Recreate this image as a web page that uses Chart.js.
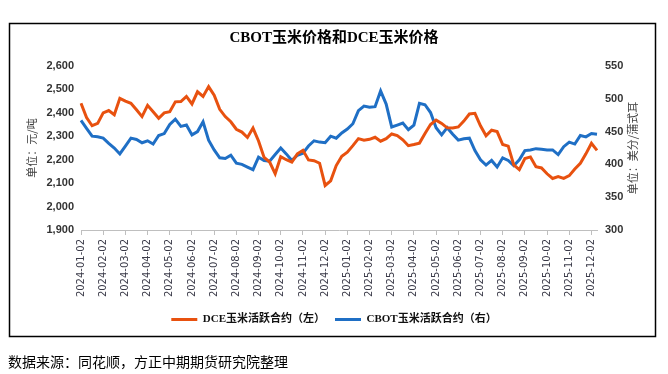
<!DOCTYPE html>
<html lang="zh">
<head>
  <meta charset="UTF-8">
  <title>CBOT玉米价格和DCE玉米价格</title>
  <script src="https://cdn.jsdelivr.net/npm/chart.js"></script>
  <style>
    html, body {
      margin: 0;
      padding: 0;
      background: #fff;
    }
    canvas {
      display: block;
    }
  </style>
</head>
<body>
  <canvas id="cornChart" width="668" height="374"></canvas>

  <script>
    // month ticks on the x axis, 4 samples per month
    const months = [
      "2024-01", "2024-02", "2024-03", "2024-04", "2024-05", "2024-06",
      "2024-07", "2024-08", "2024-09", "2024-10", "2024-11", "2024-12",
      "2025-01", "2025-02", "2025-03", "2025-04", "2025-05", "2025-06",
      "2025-07", "2025-08", "2025-09", "2025-10", "2025-11", "2025-12"
    ];
    const sampleDays = ["02", "09", "16", "23"];

    // DCE active contract, yuan/ton (left axis)
    const dcePrice = [
      2441, 2380, 2345, 2355, 2400, 2410, 2392, 2462, 2450, 2441,
      2413, 2384, 2432, 2405, 2377, 2400, 2405, 2447, 2448, 2470,
      2438, 2490, 2470, 2512, 2475, 2415, 2384, 2362, 2330, 2318,
      2295, 2335, 2280, 2210, 2190, 2140, 2213, 2200, 2190, 2225,
      2240, 2199, 2196, 2185, 2090, 2110, 2175, 2215, 2232, 2260,
      2290, 2283, 2287, 2296, 2279, 2290, 2310, 2303, 2285, 2260,
      2265, 2271, 2312, 2350, 2369, 2355, 2336, 2335, 2340, 2365,
      2395, 2398, 2345, 2302, 2326, 2320, 2265, 2258, 2178, 2158,
      2205, 2212, 2170, 2165, 2140, 2120, 2128, 2120, 2132, 2160,
      2185, 2225, 2270, 2240
    ];

    // CBOT active contract, cents/bushel (right axis)
    const cbotPrice = [
      467, 455, 443, 442, 440, 432, 425, 416, 428, 440,
      438, 433, 436, 431, 444, 447, 461, 469, 458, 460,
      445, 450, 465, 437, 422, 410, 409, 414, 402, 400,
      396, 392, 411, 406, 405, 415, 425, 416, 406, 414,
      417, 428, 436, 434, 433, 443, 440, 448, 454, 462,
      482, 489, 487, 488, 512, 492, 457, 460, 463, 453,
      460, 493, 491, 479, 456, 445, 456, 446, 437, 439,
      440, 421, 407, 399, 406, 396, 410, 406, 398, 407,
      421, 422, 424, 423, 422, 422, 415, 427, 434, 431,
      444, 442, 447, 446
    ];

    const dates = [];
    months.forEach(m => sampleDays.forEach(d => dates.push(m + "-" + d)));
    dates.length = dcePrice.length;

    const ORANGE = "#E8510F";
    const BLUE = "#1F6FC5";

    // border box, source note and right axis title
    const frame = {
      id: "frame",
      afterDraw(chart) {
        const c = chart.ctx;
        c.save();
        c.strokeStyle = "#000";
        c.lineWidth = 1.5;
        c.strokeRect(9.5, 23.5, 646, 313);

        c.fillStyle = "#000";
        c.font = "14px 'Noto Sans CJK SC'";
        c.textAlign = "left";
        c.textBaseline = "middle";
        c.fillText("数据来源：同花顺，方正中期期货研究院整理", 8, 362);

        const yr = chart.scales.y2;
        c.fillStyle = "#404040";
        c.font = "11px 'Noto Sans CJK SC'";
        c.textAlign = "center";
        c.translate(633, (yr.top + yr.bottom) / 2);
        c.rotate(-Math.PI / 2);
        c.fillText("单位：美分/蒲式耳", 0, 0);
        c.restore();
      }
    };

    const tickFont = { family: "'Liberation Sans', Arial", size: 11, weight: "bold" };

    new Chart(document.getElementById("cornChart"), {
      type: "line",
      data: {
        labels: dates,
        datasets: [
          {
            label: "DCE玉米活跃合约（左）",
            data: dcePrice,
            borderColor: ORANGE,
            backgroundColor: ORANGE,
            borderWidth: 3,
            pointRadius: 0,
            tension: 0,
            yAxisID: "y"
          },
          {
            label: "CBOT玉米活跃合约（右）",
            data: cbotPrice,
            borderColor: BLUE,
            backgroundColor: BLUE,
            borderWidth: 3,
            pointRadius: 0,
            tension: 0,
            yAxisID: "y2"
          }
        ]
      },
      options: {
        responsive: false,
        animation: false,
        layout: { padding: { top: 23, left: 12, right: 12, bottom: 39 } },
        plugins: {
          title: {
            display: true,
            text: "CBOT玉米价格和DCE玉米价格",
            color: "#000",
            font: { family: "'Liberation Serif', 'Noto Sans CJK SC'", size: 15, weight: "bold" },
            padding: { top: 6, bottom: 19 }
          },
          legend: {
            position: "bottom",
            labels: {
              boxWidth: 26,
              boxHeight: 3,
              padding: 10,
              color: "#111",
              font: { family: "'Liberation Serif', 'Noto Sans CJK SC'", size: 11, weight: "bold" },
              generateLabels: chart =>
                Chart.defaults.plugins.legend.labels.generateLabels(chart)
                  .map(item => Object.assign(item, { lineWidth: 0 }))
            }
          },
          tooltip: { enabled: false }
        },
        scales: {
          x: {
            grid: {
              display: true,
              drawOnChartArea: false,
              drawTicks: true,
              tickLength: 5,
              color: ctx => (ctx.index % 4 === 0 ? "#bfbfbf" : "rgba(0,0,0,0)")
            },
            border: { display: true, color: "#bfbfbf", width: 1 },
            ticks: {
              autoSkip: false,
              minRotation: 90,
              maxRotation: 90,
              padding: 4,
              color: "#3a3a48",
              font: { family: "'DejaVu Sans'", size: 10 },
              callback: (v, i) => (i % 4 === 0 ? dates[i] : "")
            },
            afterFit: s => { s.height = 74; }
          },
          y: {
            position: "left",
            min: 1900,
            max: 2600,
            grid: { display: false, drawTicks: false },
            border: { display: false },
            ticks: {
              stepSize: 100,
              padding: 7,
              color: "#333",
              font: tickFont,
              callback: v => v.toLocaleString("en-US")
            },
            title: {
              display: true,
              text: "单位：元/吨",
              color: "#404040",
              font: { family: "'Noto Sans CJK SC'", size: 11 },
              padding: { top: 13, bottom: 0 }
            },
            afterFit: s => { s.width = 69; }
          },
          y2: {
            position: "right",
            min: 300,
            max: 550,
            grid: { display: false, drawTicks: false },
            border: { display: false },
            ticks: {
              stepSize: 50,
              padding: 8,
              color: "#333",
              font: tickFont
            },
            afterFit: s => { s.width = 59; }
          }
        }
      },
      plugins: [frame]
    });
  </script>
</body>
</html>
